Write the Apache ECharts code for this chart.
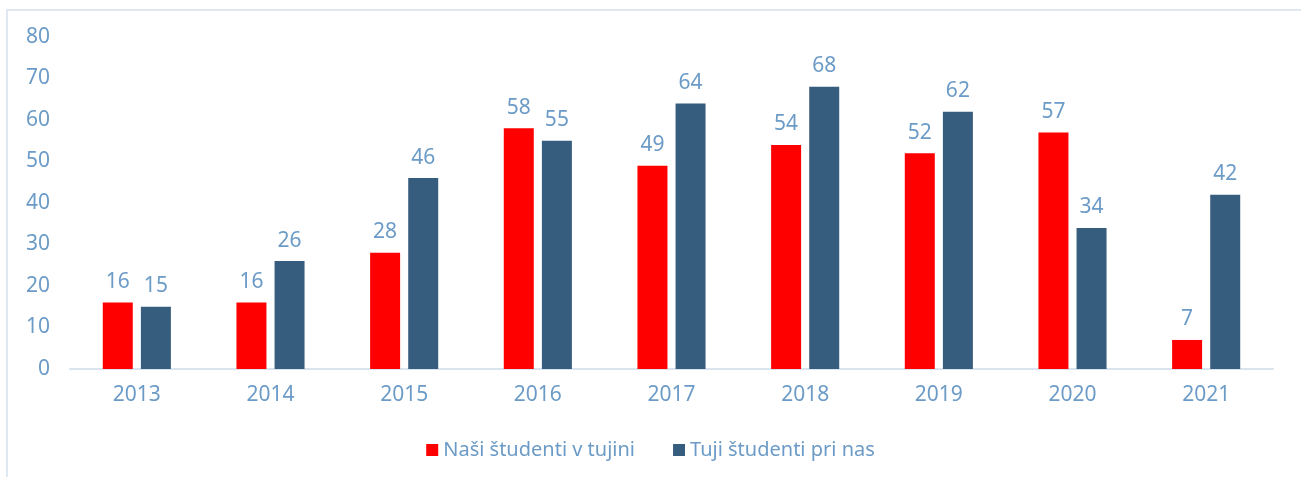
<!DOCTYPE html>
<html>
<head>
<meta charset="utf-8">
<script src="https://cdn.jsdelivr.net/npm/echarts@6/dist/echarts.min.js"></script>
<style>
  html, body { margin: 0; padding: 0; background: #fff; overflow: hidden; }
  .frame {
    position: absolute; left: 6px; top: 9px; width: 1320px; height: 500px;
    border-top: 2px solid #dfe7f1; border-left: 2px solid #dfe7f1;
  }
  #chart { position: absolute; left: 0; top: 0; width: 1301px; height: 477px; }
</style>
</head>
<body>
<div class="frame"></div>
<div id="chart"></div>
<script>
  // 年份与两组学生数
  const years = ['2013', '2014', '2015', '2016', '2017', '2018', '2019', '2020', '2021'];
  const nasiVTujini = [16, 16, 28, 58, 49, 54, 52, 57, 7];
  const tujiPriNas = [15, 26, 46, 55, 64, 68, 62, 34, 42];
  const yTicks = [0, 10, 20, 30, 40, 50, 60, 70, 80];

  const textColor = '#6b9bc6';
  const fontFamily = '"Noto Sans", sans-serif';
  const fontSize = 21;

  const myChart = echarts.init(document.getElementById('chart'));
  const option = {
    animation: false,
    textStyle: { fontFamily: fontFamily },
    grid: {
      left: 70,
      right: 28,
      top: 37,
      bottom: 108
    },
    legend: {
      bottom: 12,
      left: 'center',
      itemWidth: 12,
      itemHeight: 12,
      itemGap: 38,
      itemTextGap: 6,
      icon: 'rect',
      textStyle: { color: textColor, fontSize: 20, fontFamily: fontFamily },
      data: ['Naši študenti v tujini', 'Tuji študenti pri nas']
    },
    xAxis: {
      type: 'category',
      data: years,
      axisLine: { lineStyle: { color: '#dae4ef', width: 2 } },
      axisTick: { show: false },
      axisLabel: { color: textColor, fontSize: fontSize, margin: 16 }
    },
    yAxis: {
      type: 'value',
      min: yTicks[0],
      max: yTicks[yTicks.length - 1],
      interval: 10,
      splitLine: { show: false },
      axisLine: { show: false },
      axisTick: { show: false },
      axisLabel: { color: textColor, fontSize: fontSize, margin: 20 }
    },
    series: [
      {
        name: 'Naši študenti v tujini',
        type: 'bar',
        data: nasiVTujini,
        barWidth: 30,
        barGap: '27%',
        itemStyle: { color: '#ff0000' },
        label: {
          show: true,
          position: 'top',
          distance: 10,
          color: textColor,
          fontSize: fontSize
        }
      },
      {
        name: 'Tuji študenti pri nas',
        type: 'bar',
        data: tujiPriNas,
        barWidth: 30,
        itemStyle: { color: '#375d7e' },
        label: {
          show: true,
          position: 'top',
          distance: 10,
          color: textColor,
          fontSize: fontSize
        }
      }
    ]
  };
  myChart.setOption(option);
</script>
</body>
</html>
